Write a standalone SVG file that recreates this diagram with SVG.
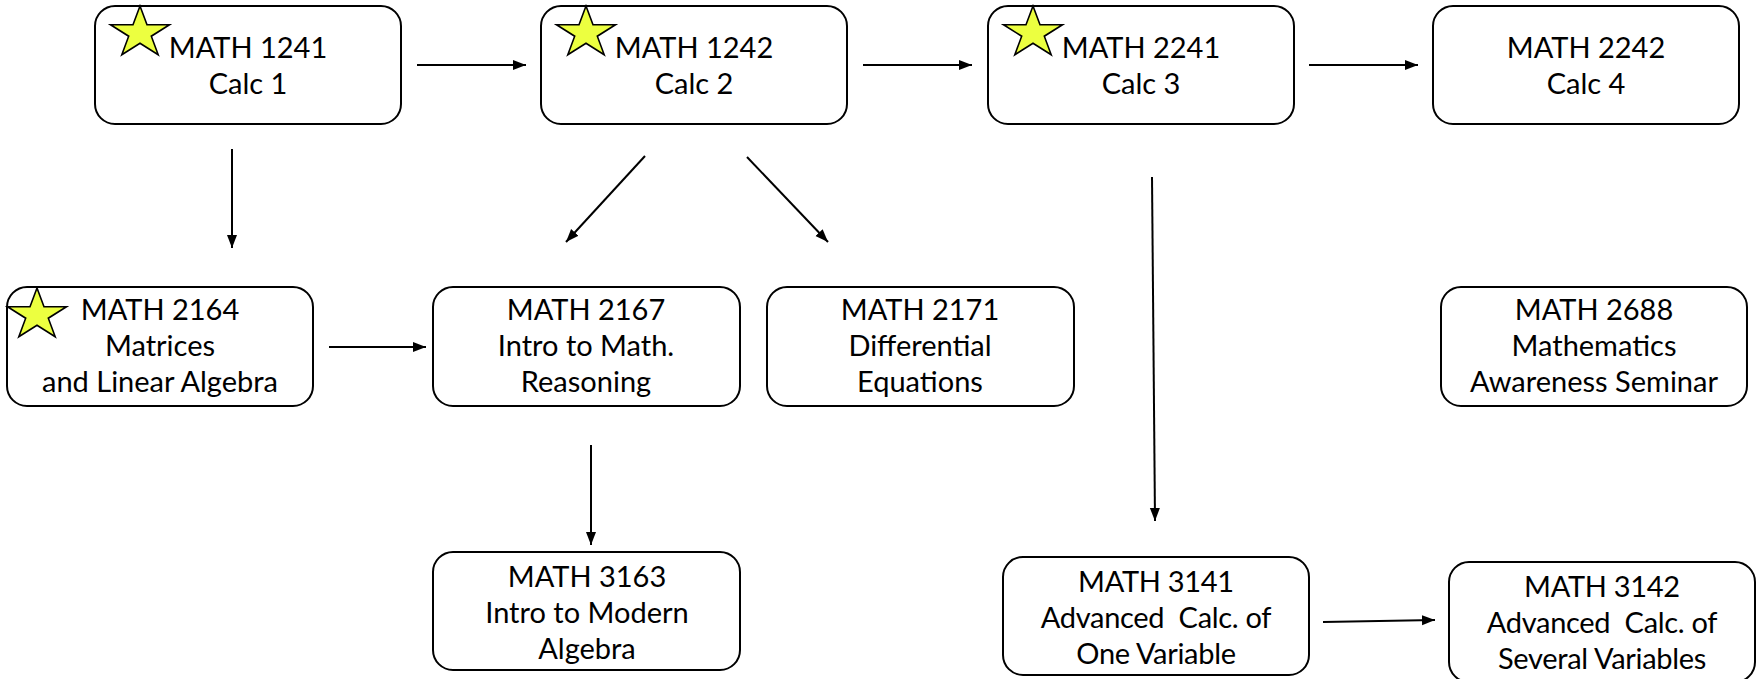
<svg xmlns="http://www.w3.org/2000/svg" width="1756" height="679" viewBox="0 0 1756 679">
<defs>
<style>
.box{fill:#fff;stroke:#000;stroke-width:2}
.t{font-family:Lato,"Open Sans","Liberation Sans",sans-serif;font-size:29px;fill:#000;text-anchor:middle;white-space:pre}
.n{letter-spacing:-0.3px}
.c{stroke:#000;stroke-width:2;fill:none;marker-end:url(#ah)}
.star{fill:#ecff40;stroke:#000;stroke-width:1.6;stroke-linejoin:miter}
</style>
<marker id="ah" markerWidth="14" markerHeight="12" refX="13" refY="6" orient="auto" markerUnits="userSpaceOnUse">
<path d="M0,1 L13,6 L0,11 Z" fill="#000"/>
</marker>
<path id="st" class="star" d="M0,-27 L7,-8.3 L29.5,-8.3 L11.3,3.2 L18.2,21.8 L0,10.3 L-18.2,21.8 L-11.3,3.2 L-29.5,-8.3 L-7,-8.3 Z"/>
</defs>
<rect width="1756" height="679" fill="#fff"/>
<g id="connectors">
<line class="c" x1="417" y1="65" x2="526" y2="65"/>
<line class="c" x1="863" y1="65" x2="972" y2="65"/>
<line class="c" x1="1309" y1="65" x2="1418" y2="65"/>
<line class="c" x1="232" y1="149" x2="232" y2="248"/>
<line class="c" x1="645" y1="156" x2="566" y2="242"/>
<line class="c" x1="747" y1="157" x2="828" y2="242"/>
<line class="c" x1="329" y1="347" x2="426" y2="347"/>
<line class="c" x1="591" y1="445" x2="591" y2="545"/>
<line class="c" x1="1152" y1="177" x2="1155" y2="521"/>
<line class="c" x1="1323" y1="622" x2="1435" y2="620"/>
</g>
<g id="n1241">
<rect class="box" x="95" y="6" width="306" height="118" rx="20"/>
<use href="#st" x="140" y="33"/>
<text class="t" x="248" y="58">MATH 1241</text>
<text class="t" x="248" y="94">Calc 1</text>
</g>
<g id="n1242">
<rect class="box" x="541" y="6" width="306" height="118" rx="20"/>
<use href="#st" x="586" y="33"/>
<text class="t" x="694" y="58">MATH 1242</text>
<text class="t" x="694" y="94">Calc 2</text>
</g>
<g id="n2241">
<rect class="box" x="988" y="6" width="306" height="118" rx="20"/>
<use href="#st" x="1033" y="33"/>
<text class="t" x="1141" y="58">MATH 2241</text>
<text class="t" x="1141" y="94">Calc 3</text>
</g>
<g id="n2242">
<rect class="box" x="1433" y="6" width="306" height="118" rx="20"/>
<text class="t" x="1586" y="58">MATH 2242</text>
<text class="t" x="1586" y="94">Calc 4</text>
</g>
<g id="n2164">
<rect class="box" x="7" y="287" width="306" height="119" rx="20"/>
<use href="#st" x="37" y="315"/>
<text class="t" x="160" y="320">MATH 2164</text>
<text class="t" x="160" y="356">Matrices</text>
<text class="t" x="160" y="392">and Linear Algebra</text>
</g>
<g id="n2167">
<rect class="box" x="433" y="287" width="307" height="119" rx="20"/>
<text class="t" x="586" y="320">MATH 2167</text>
<text class="t" x="586" y="356">Intro to Math.</text>
<text class="t" x="586" y="392">Reasoning</text>
</g>
<g id="n2171">
<rect class="box" x="767" y="287" width="307" height="119" rx="20"/>
<text class="t" x="920" y="320">MATH 2171</text>
<text class="t" x="920" y="356">Differential</text>
<text class="t" x="920" y="392">Equations</text>
</g>
<g id="n2688">
<rect class="box" x="1441" y="287" width="306" height="119" rx="20"/>
<text class="t" x="1594" y="320">MATH 2688</text>
<text class="t" x="1594" y="356">Mathematics</text>
<text class="t" x="1594" y="392">Awareness Seminar</text>
</g>
<g id="n3163">
<rect class="box" x="433" y="552" width="307" height="118" rx="20"/>
<text class="t" x="587" y="587">MATH 3163</text>
<text class="t" x="587" y="623">Intro to Modern</text>
<text class="t" x="587" y="659">Algebra</text>
</g>
<g id="n3141">
<rect class="box" x="1003" y="557" width="306" height="118" rx="20"/>
<text class="t n" x="1156" y="592">MATH 3141</text>
<text class="t n" x="1156" y="628">Advanced  Calc. of</text>
<text class="t n" x="1156" y="664">One Variable</text>
</g>
<g id="n3142">
<rect class="box" x="1449" y="562" width="306" height="120" rx="20"/>
<text class="t n" x="1602" y="597">MATH 3142</text>
<text class="t n" x="1602" y="633">Advanced  Calc. of</text>
<text class="t n" x="1602" y="669">Several Variables</text>
</g>
</svg>
